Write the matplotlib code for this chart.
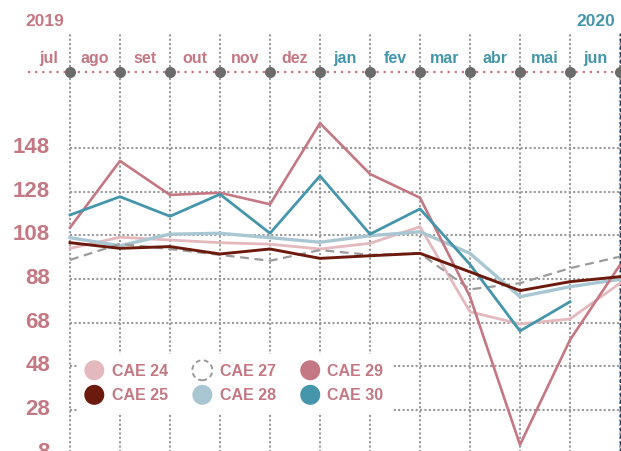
import matplotlib
matplotlib.use('Agg')
import matplotlib.pyplot as plt
import matplotlib.patches as mpatches
from matplotlib.legend_handler import HandlerPatch

plt.rcParams['font.family'] = ['Liberation Sans', 'DejaVu Sans']

# dados (indice de producao, base 2019)
meses = ['jul', 'ago', 'set', 'out', 'nov', 'dez', 'jan', 'fev', 'mar', 'abr', 'mai', 'jun']
anos = ['2019', '2020']
yticks = [148, 128, 108, 88, 68, 48, 28, 8]

cae24 = [102.1, 107.2, 105.9, 104.7, 104.0, 101.8, 104.4, 112.0, 73.0, 67.4, 69.7, 86.1]
cae25 = [104.7, 102.1, 102.9, 99.5, 101.8, 97.5, 98.7, 99.8, 91.3, 82.7, 86.8, 89.1]
cae27 = [96.8, 104.1, 101.8, 99.1, 96.4, 101.3, 99.1, 99.8, 83.3, 86.1, 93.0, 98.3]
cae28 = [107.0, 103.3, 108.6, 109.0, 107.0, 104.9, 107.9, 109.7, 99.8, 79.9, 84.5, 87.9]
cae29 = [111.6, 142.2, 126.6, 127.6, 122.3, 159.5, 136.2, 125.3, 79.9, 12.0, 60.1, 94.5]
cae30 = [117.4, 125.8, 116.8, 126.9, 109.0, 135.3, 108.6, 120.2, 94.7, 64.2, 77.6]

ROSA = '#c47883'
TEAL = '#4596ab'
GRID = '#9a9a9a'

fig = plt.figure(figsize=(6.21, 4.51), dpi=100)
ax = fig.add_axes([0, 0, 1, 1])
ax.set_xlim(-1.4, 11.02)
ax.set_ylim(9.15, 216.0)
ax.axis('off')

x = list(range(len(meses)))
y_top = 200.9    # topo das linhas verticais
y_meses = 183.0  # linha dos meses

# grelha pontilhada
ax.vlines(x, 0, y_top, colors=GRID, linestyles=(0, (1, 1.1)), lw=1.5, zorder=1)
ax.hlines(yticks, x[0], 12, colors=GRID, linestyles=(0, (1, 1.1)), lw=1.5, zorder=1)
ax.vlines(x[-1], 0, y_top, colors='#1d3c5c', linestyles=(0, (3, 2)), lw=1.0, zorder=1)

for v in yticks:
    ax.text(-0.4, v + 0.3, str(v), ha='right', va='center', fontsize=16,
            fontweight='bold', color=ROSA)

# eixo dos meses
ax.plot([-0.84, 12], [y_meses, y_meses], color=ROSA, ls=(0, (1, 2.2)), lw=1.6, zorder=2)
ax.scatter(x, [y_meses] * len(x), s=48, color='#6b6b6b', zorder=3)
for i, m in enumerate(meses):
    cor = ROSA if i < 6 else TEAL
    xm = i - 0.5 if i > 0 else -0.42
    ax.text(xm, 189.3, m, ha='center', va='center', fontsize=11.5,
            fontweight='bold', color=cor)
ax.text(-0.9, 206.2, anos[0], ha='left', va='center', fontsize=12.5,
        fontweight='bold', color=ROSA)
ax.text(10.9, 206.2, anos[1], ha='right', va='center', fontsize=12.5,
        fontweight='bold', color=TEAL)

# series
ax.plot(x, cae24, color='#e4b9be', lw=2.0, zorder=4)
ax.plot(x, cae28, color='#a9c7d3', lw=2.4, zorder=4)
ax.plot(x, cae27, color='#9b9b9b', lw=1.6, ls=(0, (4, 2.5)), zorder=4)
ax.plot(x, cae29, color=ROSA, lw=1.9, zorder=5)
ax.plot(x[:len(cae30)], cae30, color=TEAL, lw=2.0, zorder=5)
ax.plot(x, cae25, color='#6b1a0d', lw=2.1, zorder=6)


# legenda com circulos
def circulo(legend, orig_handle, xdescent, ydescent, width, height, fontsize):
    return mpatches.Circle((width / 2 - xdescent, height / 2 - ydescent), 7.2)


handles = [
    mpatches.Patch(facecolor='#e4b9be', edgecolor='none'),
    mpatches.Patch(facecolor='#6b1a0d', edgecolor='none'),
    mpatches.Patch(facecolor='none', edgecolor='#9b9b9b', lw=1.4, ls=(0, (2.5, 1.8))),
    mpatches.Patch(facecolor='#a9c7d3', edgecolor='none'),
    mpatches.Patch(facecolor=ROSA, edgecolor='none'),
    mpatches.Patch(facecolor=TEAL, edgecolor='none'),
]
labels = ['CAE 24', 'CAE 25', 'CAE 27', 'CAE 28', 'CAE 29', 'CAE 30']
leg = fig.legend(handles, labels, ncol=3, loc='lower left',
                 bbox_to_anchor=(78 / 621, 38 / 451), bbox_transform=fig.transFigure,
                 frameon=True, facecolor='white', edgecolor='none', framealpha=1,
                 fancybox=False, borderpad=0.6, borderaxespad=0, handlelength=0.84,
                 handleheight=0.7, handletextpad=0.66, columnspacing=1.75,
                 labelspacing=0.6, prop={'size': 11.5, 'weight': 'bold'},
                 handler_map={mpatches.Patch: HandlerPatch(patch_func=circulo)})
for t in leg.get_texts():
    t.set_color(ROSA)
    t.set_fontweight('bold')
leg.set_zorder(7)

fig.savefig('out.png', dpi=100, facecolor='white')
